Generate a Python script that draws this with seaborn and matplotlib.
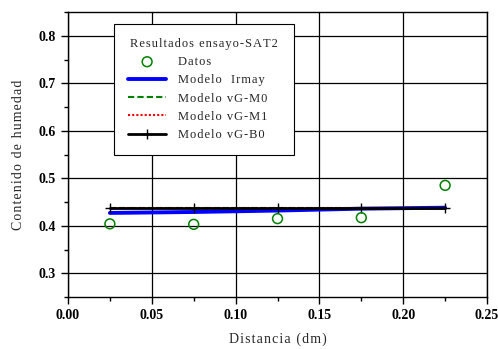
import matplotlib
matplotlib.use("Agg")
import matplotlib.pyplot as plt
import seaborn as sns

# datos del ensayo SAT2
distancia = [0.025, 0.075, 0.125, 0.175, 0.225]
datos = [0.404, 0.403, 0.415, 0.417, 0.485]
irmay = [0.427, 0.429, 0.432, 0.436, 0.438]
vg_m0 = [0.437, 0.437, 0.437, 0.437, 0.437]
vg_m1 = [0.437, 0.437, 0.437, 0.437, 0.437]
vg_b0 = [0.437, 0.437, 0.437, 0.437, 0.437]


def sp(s):
    # texto con espaciado entre letras, como en el original
    return '\u200a'.join(s)


sns.set_style("ticks")
plt.rcParams['font.family'] = ['Liberation Serif', 'DejaVu Serif']

fig = plt.figure(figsize=(4.98, 3.49), dpi=100)
ax = fig.add_axes([0.1365, 0.149, 0.8415, 0.8166])

ax.grid(True, color='black', linewidth=0.9)
ax.set_axisbelow(True)

sns.scatterplot(x=distancia, y=datos, ax=ax, marker='o', s=50, facecolor='none',
                edgecolor='green', linewidth=1.1, label=sp('Datos'), zorder=5)
sns.lineplot(x=distancia, y=irmay, ax=ax, color='blue', linewidth=2.8, label=sp('Modelo  Irmay'))
sns.lineplot(x=distancia, y=vg_m0, ax=ax, color='green', linewidth=1.5, linestyle=(0, (3, 1.5)), label=sp('Modelo vG-M0'))
sns.lineplot(x=distancia, y=vg_m1, ax=ax, color='red', linewidth=1.5, linestyle=(0, (1, 1)), label=sp('Modelo vG-M1'))
sns.lineplot(x=distancia, y=vg_b0, ax=ax, color='black', linewidth=2.0, marker='+', markersize=7,
             markeredgewidth=1, markeredgecolor='black', label=sp('Modelo vG-B0'))

ax.set_xlim(0, 0.25)
ax.set_ylim(0.25, 0.85)
ax.set_xticks([0.0, 0.05, 0.10, 0.15, 0.20, 0.25])
ax.set_xticklabels(['0.00', '0.05', '0.10', '0.15', '0.20', '0.25'])
ax.set_xticks([0.025, 0.075, 0.125, 0.175, 0.225], minor=True)
ax.set_yticks([0.3, 0.4, 0.5, 0.6, 0.7, 0.8])
ax.set_yticklabels(['0.3', '0.4', '0.5', '0.6', '0.7', '0.8'])
ax.set_yticks([0.25, 0.35, 0.45, 0.55, 0.65, 0.75, 0.85], minor=True)
ax.tick_params(which='major', direction='out', length=5, width=1, colors='black', labelsize=10)
ax.tick_params(which='minor', direction='out', length=3, width=1, colors='black')
for lbl in ax.get_xticklabels() + ax.get_yticklabels():
    lbl.set_fontweight('bold')
for s in ax.spines.values():
    s.set_color('black')
    s.set_linewidth(1)

ax.set_xlabel(sp('Distancia (dm)'), fontsize=10, labelpad=8)
ax.set_ylabel(sp('Contenido de humedad'), fontsize=10, labelpad=10)

leg = ax.legend(title=sp('Resultados ensayo-SAT2'), loc='upper left',
                bbox_to_anchor=(46 / 419, 143 / 285, 180 / 419, 130 / 285), mode='expand',
                borderaxespad=0, fontsize=9, title_fontsize=9, frameon=True, fancybox=False,
                edgecolor='black', framealpha=1, handlelength=3.1, borderpad=1.1,
                handletextpad=0.9, labelspacing=0.5)
leg.get_frame().set_linewidth(0.8)

fig.savefig('out.png', dpi=100)
